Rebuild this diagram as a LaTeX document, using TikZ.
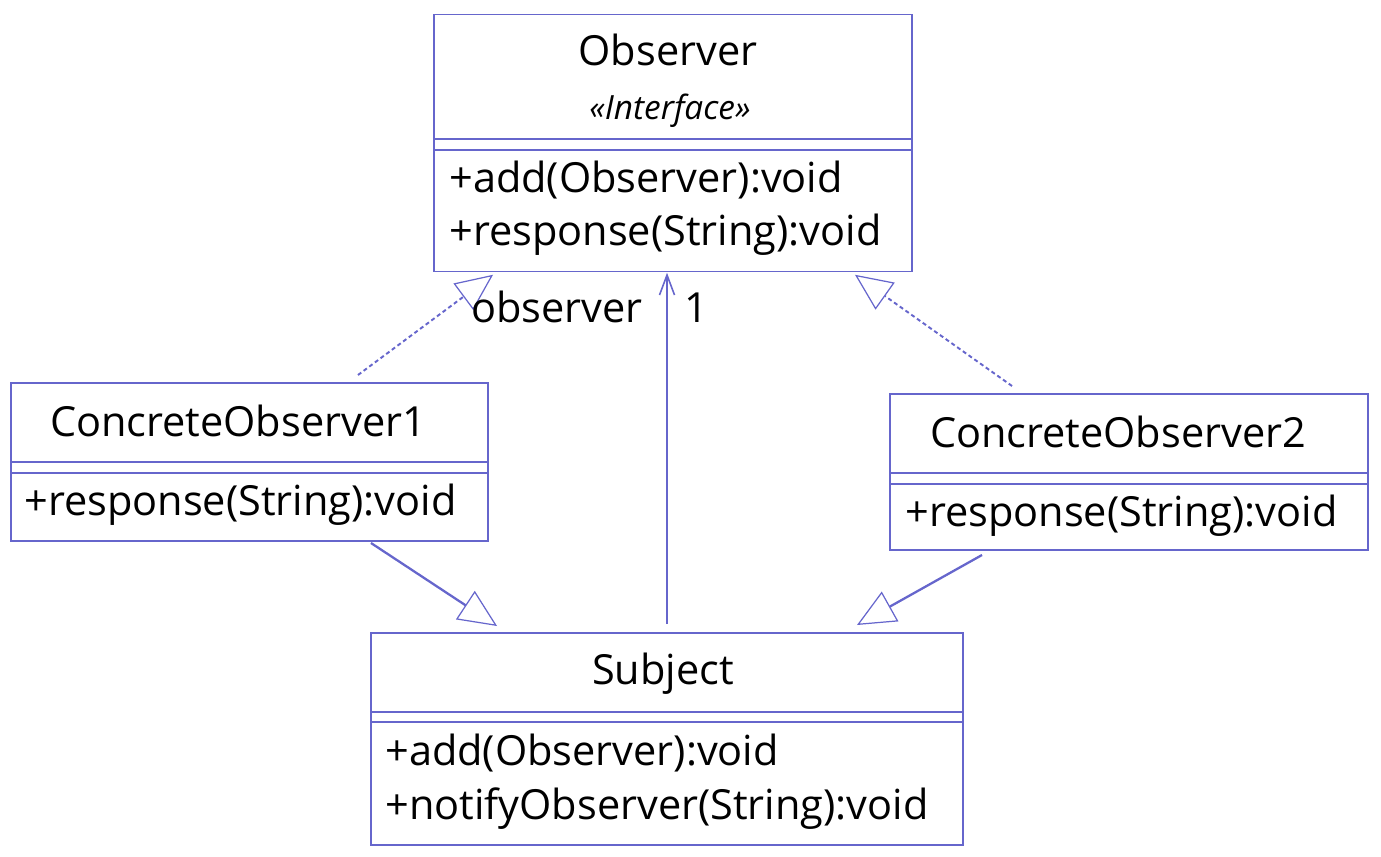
\documentclass[tikz,border=0pt]{standalone}
\usepackage{fontspec}
\setmainfont{Open Sans}
\usetikzlibrary{arrows.meta}
\definecolor{umlblue}{RGB}{102,102,204}

\begin{document}
\begin{tikzpicture}[
    x=0.02cm, y=-0.02cm,
    cls/.style={draw=umlblue, rectangle, line width=0.75pt, inner sep=0pt, outer sep=0pt},
    sep/.style={draw=umlblue, line width=0.75pt},
    txt/.style={inner sep=0pt, font=\fontsize{23.6}{28}\selectfont},
    stereo/.style={inner sep=0pt, font=\fontsize{19}{23}\selectfont\itshape},
    realize/.style={draw=umlblue, line width=1.1pt, dash pattern=on 2.3pt off 1.7pt, -{Triangle[open, length=0.74cm, width=0.66cm, line width=0.7pt]}},
    inherit/.style={draw=umlblue, line width=1.3pt, -{Triangle[open, length=0.76cm, width=0.68cm, line width=0.7pt]}},
    assoc/.style={draw=umlblue, line width=1.3pt, -{Straight Barb[length=0.4cm, width=0.3cm, line width=0.9pt]}}
]
\useasboundingbox (0,0) rectangle (1381,857);

% Clases
\node (observer) [cls, minimum width=9.56cm, minimum height=5.14cm] at (673,143.3) {};
\node (co1) [cls, minimum width=9.54cm, minimum height=3.16cm] at (249.5,462) {};
\node (co2) [cls, minimum width=9.56cm, minimum height=3.12cm] at (1129,472) {};
\node (subject) [cls, minimum width=11.84cm, minimum height=4.24cm] at (667,739) {};

% Compartimentos
\draw [sep] (observer.west |- 0,139) -- (observer.east |- 0,139);
\draw [sep] (observer.west |- 0,150) -- (observer.east |- 0,150);
\draw [sep] (co1.west |- 0,462) -- (co1.east |- 0,462);
\draw [sep] (co1.west |- 0,473) -- (co1.east |- 0,473);
\draw [sep] (co2.west |- 0,473) -- (co2.east |- 0,473);
\draw [sep] (co2.west |- 0,484) -- (co2.east |- 0,484);
\draw [sep] (subject.west |- 0,712) -- (subject.east |- 0,712);
\draw [sep] (subject.west |- 0,722) -- (subject.east |- 0,722);

% Textos
\node (obsname) [txt, anchor=base] at (668,66) {Observer};
\node (obsstereo) [stereo, anchor=base] at (670,120) {«Interface»};
\node (obsadd) [txt, anchor=base west] at (449,193) {+add(Observer):void};
\node (obsresp) [txt, anchor=base west] at (449,246) {+response(String):void};
\node (co1name) [txt, anchor=base] at (238,437) {ConcreteObserver1};
\node (co1resp) [txt, anchor=base west] at (24,515) {+response(String):void};
\node (co2name) [txt, anchor=base] at (1118,448) {ConcreteObserver2};
\node (co2resp) [txt, anchor=base west] at (905,526) {+response(String):void};
\node (subname) [txt, anchor=base] at (663,684) {Subject};
\node (subadd) [txt, anchor=base west] at (385,765) {+add(Observer):void};
\node (subnotify) [txt, anchor=base west] at (385,819) {+notifyObserver(String):void};

% Flechas
\draw [realize] ([xshift=2.17cm, yshift=0.16cm]co1.north) -- ([xshift=-3.6cm, yshift=-0.06cm]observer.south);
\draw [realize] ([xshift=-2.34cm, yshift=0.16cm]co2.north) -- ([xshift=3.64cm, yshift=-0.06cm]observer.south);
\draw [inherit] ([xshift=2.43cm, yshift=-0.04cm]co1.south) -- ([xshift=-3.4cm, yshift=0.14cm]subject.north);
\draw [inherit] ([xshift=-2.94cm, yshift=-0.1cm]co2.south) -- ([xshift=3.8cm, yshift=0.16cm]subject.north);
\draw [assoc] ([yshift=0.18cm]subject.north) -- ([yshift=-0.02cm]subject.north |- observer.south);
\node (role) [txt, anchor=base east] at (643,323) {observer};
\node (mult) [txt, anchor=base west] at (684,323) {1};

\end{tikzpicture}
\end{document}
